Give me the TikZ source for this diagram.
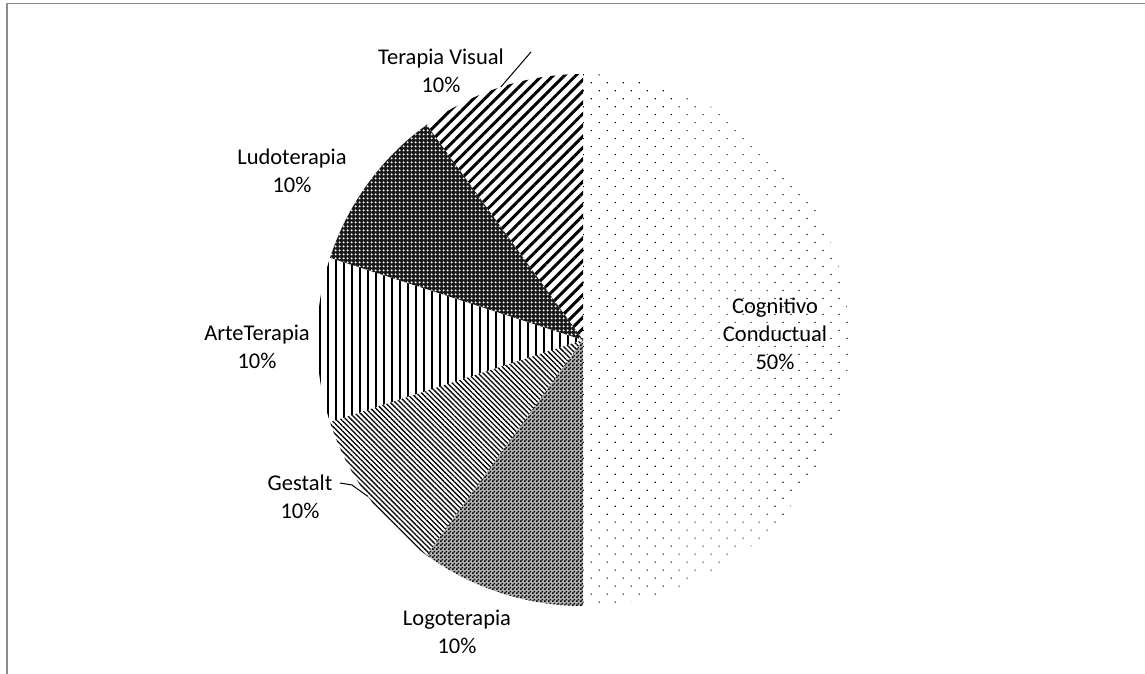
\documentclass[tikz,border=0pt]{standalone}
\usepackage{fontspec}
\setmainfont{Carlito}
\usetikzlibrary{patterns, patterns.meta, positioning}

\pgfdeclarepatternformonly{checker}{\pgfpointorigin}{\pgfqpoint{4pt}{4pt}}{\pgfqpoint{4pt}{4pt}}{%
	\pgfpathrectangle{\pgfpointorigin}{\pgfqpoint{2pt}{2pt}}%
	\pgfpathrectangle{\pgfqpoint{2pt}{2pt}}{\pgfqpoint{2pt}{2pt}}%
	\pgfusepath{fill}}

\begin{document}
\begin{tikzpicture}[x=1pt, y=1pt,
	lbl/.style={align=center, font=\fontsize{22.5}{28}\selectfont, inner sep=0pt},
	leader/.style={draw=black, line width=1pt}]
	\useasboundingbox (0,0) rectangle (1145,674);
	\draw[gray!90, line width=1.3pt] (7,0) -- (7,670.5) -- (1145,670.5); % Frame
	
	\coordinate (c) at (583,334); % Centre of the pie
	
	% Draw the slices (10% = 36 degrees)
	\fill[pattern={Dots[angle=45, distance=11.3pt, radius=0.8pt]}]
	(c) -- ++(-90:266pt) arc[start angle=-90, end angle=90, radius=266pt] -- cycle;
	\fill[pattern={Lines[angle=45, distance=8pt, line width=3pt]}]
	(c) -- ++(90:266pt) arc[start angle=90, end angle=126, radius=266pt] -- cycle;
	\fill[black!90, postaction={pattern={Dots[distance=4pt, radius=1.3pt]}, pattern color=white}]
	(c) -- ++(126:266pt) arc[start angle=126, end angle=162, radius=266pt] -- cycle;
	\fill[pattern={Lines[angle=90, distance=8pt, line width=2pt]}]
	(c) -- ++(162:266pt) arc[start angle=162, end angle=198, radius=266pt] -- cycle;
	\fill[pattern={Lines[angle=-45, distance=3.6pt, line width=1.3pt]}]
	(c) -- ++(198:266pt) arc[start angle=198, end angle=234, radius=266pt] -- cycle;
	\fill[black!30, postaction={pattern=checker, pattern color=black}]
	(c) -- ++(234:266pt) arc[start angle=234, end angle=270, radius=266pt] -- cycle;
	
	% Draw the labels
	\node[lbl] (cog) at (775,340) {Cognitivo\\Conductual\\50\%};
	\node[lbl] (tv) at (441,603) {Terapia Visual\\10\%};
	\node[lbl] (ludo) at (292,503) {Ludoterapia\\10\%};
	\node[lbl] (arte) at (257,327) {ArteTerapia\\10\%};
	\node[lbl] (gest) at (300,177) {Gestalt\\10\%};
	\node[lbl] (logo) at (457,42) {Logoterapia\\10\%};
	
	% Leader lines
	\path (c) ++(108:266pt) coordinate (tvtip);
	\path (c) ++(216:266pt) coordinate (gesttip);
	\coordinate (tvend) at (531,622);
	\coordinate (gestend) at (340,191);
	\draw[leader] (tvtip) -- (tvend);
	\draw[leader] (gesttip) -- (352,189) -- (gestend);
	
\end{tikzpicture}
\end{document}
